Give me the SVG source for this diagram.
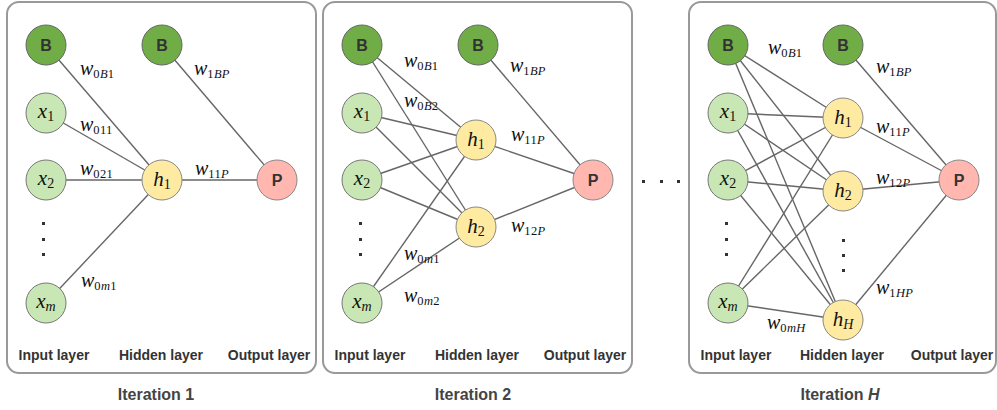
<svg xmlns="http://www.w3.org/2000/svg" width="997" height="410" viewBox="0 0 997 410">
<style>
.panel{fill:#fff;stroke:#999;stroke-width:2}
.e{stroke:#666;stroke-width:1.4;fill:none}
.nb{fill:#70ad47;stroke:#666;stroke-width:1}
.nx{fill:#c9e7b4;stroke:#777;stroke-width:1}
.nh{fill:#ffeaa2;stroke:#888;stroke-width:1}
.np{fill:#ffb7b0;stroke:#888;stroke-width:1}
.bl{font-family:"Liberation Sans",Arial,sans-serif;font-weight:bold;font-size:16px;fill:#333;text-anchor:middle}
.vl{font-family:"Liberation Serif","Times New Roman",serif;font-style:italic;font-size:21px;fill:#111;text-anchor:middle}
.vs{font-style:normal;font-size:14px}
.w{font-family:"Liberation Serif","Times New Roman",serif;font-style:italic;font-size:20px;fill:#111}
.ws{font-style:normal;font-size:12.5px;letter-spacing:0.3px}
.it{font-style:italic}
.lay{font-family:"Liberation Sans",Arial,sans-serif;font-weight:bold;font-size:14px;fill:#333;text-anchor:middle}
.ttl{font-family:"Liberation Sans",Arial,sans-serif;font-weight:bold;font-size:16px;fill:#444;text-anchor:middle}
.dot{fill:#333}
</style>

<g id="panels">
<rect class="panel" x="7" y="2" width="309" height="371" rx="12"/>
<rect class="panel" x="323" y="2" width="309" height="371" rx="12"/>
<rect class="panel" x="689" y="2" width="307" height="371" rx="12"/>
</g>

<g id="connectors">
<line class="e" x1="46" y1="45" x2="162" y2="180"/>
<line class="e" x1="46" y1="113" x2="162" y2="180"/>
<line class="e" x1="46" y1="180" x2="162" y2="180"/>
<line class="e" x1="46" y1="303" x2="162" y2="180"/>
<line class="e" x1="162" y1="45" x2="277" y2="180"/>
<line class="e" x1="162" y1="180" x2="277" y2="180"/>
<line class="e" x1="362" y1="45" x2="476" y2="140"/>
<line class="e" x1="362" y1="45" x2="476" y2="227"/>
<line class="e" x1="362" y1="113" x2="476" y2="140"/>
<line class="e" x1="362" y1="113" x2="476" y2="227"/>
<line class="e" x1="362" y1="180" x2="476" y2="140"/>
<line class="e" x1="362" y1="180" x2="476" y2="227"/>
<line class="e" x1="362" y1="303" x2="476" y2="140"/>
<line class="e" x1="362" y1="303" x2="476" y2="227"/>
<line class="e" x1="478" y1="45" x2="593" y2="180"/>
<line class="e" x1="476" y1="140" x2="593" y2="180"/>
<line class="e" x1="476" y1="227" x2="593" y2="180"/>
<line class="e" x1="728" y1="45" x2="843" y2="118"/>
<line class="e" x1="728" y1="45" x2="843" y2="191"/>
<line class="e" x1="728" y1="45" x2="843" y2="320"/>
<line class="e" x1="728" y1="113" x2="843" y2="118"/>
<line class="e" x1="728" y1="113" x2="843" y2="191"/>
<line class="e" x1="728" y1="113" x2="843" y2="320"/>
<line class="e" x1="728" y1="180" x2="843" y2="118"/>
<line class="e" x1="728" y1="180" x2="843" y2="191"/>
<line class="e" x1="728" y1="180" x2="843" y2="320"/>
<line class="e" x1="728" y1="303" x2="843" y2="118"/>
<line class="e" x1="728" y1="303" x2="843" y2="191"/>
<line class="e" x1="728" y1="303" x2="843" y2="320"/>
<line class="e" x1="843" y1="45" x2="959" y2="180"/>
<line class="e" x1="843" y1="118" x2="959" y2="180"/>
<line class="e" x1="843" y1="191" x2="959" y2="180"/>
<line class="e" x1="843" y1="320" x2="959" y2="180"/>
</g>

<g id="weights">
<text class="w" x="80" y="75">w<tspan class="ws" dy="3">0<tspan class="it">B</tspan>1</tspan></text>
<text class="w" x="194" y="75">w<tspan class="ws" dy="3">1<tspan class="it">BP</tspan></tspan></text>
<text class="w" x="80" y="131">w<tspan class="ws" dy="3">011</tspan></text>
<text class="w" x="80" y="175">w<tspan class="ws" dy="3">021</tspan></text>
<text class="w" x="195" y="175">w<tspan class="ws" dy="3">11<tspan class="it">P</tspan></tspan></text>
<text class="w" x="81" y="287">w<tspan class="ws" dy="3">0<tspan class="it">m</tspan>1</tspan></text>

<text class="w" x="404" y="67">w<tspan class="ws" dy="3">0<tspan class="it">B</tspan>1</tspan></text>
<text class="w" x="404" y="107">w<tspan class="ws" dy="3">0<tspan class="it">B</tspan>2</tspan></text>
<text class="w" x="510" y="72">w<tspan class="ws" dy="3">1<tspan class="it">BP</tspan></tspan></text>
<text class="w" x="511" y="141">w<tspan class="ws" dy="3">11<tspan class="it">P</tspan></tspan></text>
<text class="w" x="511" y="232">w<tspan class="ws" dy="3">12<tspan class="it">P</tspan></tspan></text>
<text class="w" x="404" y="260">w<tspan class="ws" dy="3">0<tspan class="it">m</tspan>1</tspan></text>
<text class="w" x="404" y="302">w<tspan class="ws" dy="3">0<tspan class="it">m</tspan>2</tspan></text>

<text class="w" x="768" y="54">w<tspan class="ws" dy="3">0<tspan class="it">B</tspan>1</tspan></text>
<text class="w" x="876" y="73">w<tspan class="ws" dy="3">1<tspan class="it">BP</tspan></tspan></text>
<text class="w" x="876" y="133">w<tspan class="ws" dy="3">11<tspan class="it">P</tspan></tspan></text>
<text class="w" x="876" y="184">w<tspan class="ws" dy="3">12<tspan class="it">P</tspan></tspan></text>
<text class="w" x="876" y="294">w<tspan class="ws" dy="3">1<tspan class="it">HP</tspan></tspan></text>
<text class="w" x="767" y="329">w<tspan class="ws" dy="3">0<tspan class="it">mH</tspan></tspan></text>
</g>

<g id="p1-B0"><circle class="nb" cx="46" cy="45" r="20"/><text class="bl" x="46" y="51">B</text></g>
<g id="p1-B1"><circle class="nb" cx="162" cy="45" r="20"/><text class="bl" x="162" y="51">B</text></g>
<g id="p1-x1"><circle class="nx" cx="46" cy="113" r="20"/><text class="vl" x="46" y="118">x<tspan class="vs" dy="3">1</tspan></text></g>
<g id="p1-x2"><circle class="nx" cx="46" cy="180" r="20"/><text class="vl" x="46" y="185">x<tspan class="vs" dy="3">2</tspan></text></g>
<g id="p1-xm"><circle class="nx" cx="46" cy="303" r="20"/><text class="vl" x="46" y="308">x<tspan class="vs it" dy="3">m</tspan></text></g>
<g id="p1-h1"><circle class="nh" cx="162" cy="180" r="20"/><text class="vl" x="162" y="186">h<tspan class="vs" dy="3">1</tspan></text></g>
<g id="p1-P"><circle class="np" cx="277" cy="180" r="20"/><text class="bl" x="277" y="186">P</text></g>
<g id="p1-dots"><rect class="dot" x="42" y="222" width="3" height="3"/><rect class="dot" x="42" y="238" width="3" height="3"/><rect class="dot" x="42" y="253" width="3" height="3"/></g>

<g id="p2-B0"><circle class="nb" cx="362" cy="45" r="20"/><text class="bl" x="362" y="51">B</text></g>
<g id="p2-B1"><circle class="nb" cx="478" cy="45" r="20"/><text class="bl" x="478" y="51">B</text></g>
<g id="p2-x1"><circle class="nx" cx="362" cy="113" r="20"/><text class="vl" x="362" y="118">x<tspan class="vs" dy="3">1</tspan></text></g>
<g id="p2-x2"><circle class="nx" cx="362" cy="180" r="20"/><text class="vl" x="362" y="185">x<tspan class="vs" dy="3">2</tspan></text></g>
<g id="p2-xm"><circle class="nx" cx="362" cy="303" r="20"/><text class="vl" x="362" y="308">x<tspan class="vs it" dy="3">m</tspan></text></g>
<g id="p2-h1"><circle class="nh" cx="476" cy="140" r="20"/><text class="vl" x="476" y="146">h<tspan class="vs" dy="3">1</tspan></text></g>
<g id="p2-h2"><circle class="nh" cx="476" cy="227" r="20"/><text class="vl" x="476" y="233">h<tspan class="vs" dy="3">2</tspan></text></g>
<g id="p2-P"><circle class="np" cx="593" cy="180" r="20"/><text class="bl" x="593" y="186">P</text></g>
<g id="p2-dots"><rect class="dot" x="359" y="222" width="3" height="3"/><rect class="dot" x="359" y="238" width="3" height="3"/><rect class="dot" x="359" y="253" width="3" height="3"/></g>

<g id="ellipsis"><rect class="dot" x="642" y="180" width="3" height="3"/><rect class="dot" x="660" y="180" width="3" height="3"/><rect class="dot" x="677" y="180" width="3" height="3"/></g>

<g id="p3-B0"><circle class="nb" cx="728" cy="45" r="20"/><text class="bl" x="728" y="51">B</text></g>
<g id="p3-B1"><circle class="nb" cx="843" cy="45" r="20"/><text class="bl" x="843" y="51">B</text></g>
<g id="p3-x1"><circle class="nx" cx="728" cy="113" r="20"/><text class="vl" x="728" y="118">x<tspan class="vs" dy="3">1</tspan></text></g>
<g id="p3-x2"><circle class="nx" cx="728" cy="180" r="20"/><text class="vl" x="728" y="185">x<tspan class="vs" dy="3">2</tspan></text></g>
<g id="p3-xm"><circle class="nx" cx="728" cy="303" r="20"/><text class="vl" x="728" y="308">x<tspan class="vs it" dy="3">m</tspan></text></g>
<g id="p3-h1"><circle class="nh" cx="843" cy="118" r="20"/><text class="vl" x="843" y="124">h<tspan class="vs" dy="3">1</tspan></text></g>
<g id="p3-h2"><circle class="nh" cx="843" cy="191" r="20"/><text class="vl" x="843" y="197">h<tspan class="vs" dy="3">2</tspan></text></g>
<g id="p3-hH"><circle class="nh" cx="843" cy="320" r="20"/><text class="vl" x="843" y="326">h<tspan class="vs it" dy="3">H</tspan></text></g>
<g id="p3-P"><circle class="np" cx="959" cy="180" r="20"/><text class="bl" x="959" y="186">P</text></g>
<g id="p3-dots"><rect class="dot" x="725" y="222" width="3" height="3"/><rect class="dot" x="725" y="238" width="3" height="3"/><rect class="dot" x="725" y="253" width="3" height="3"/>
<rect class="dot" x="842" y="239" width="3" height="3"/><rect class="dot" x="842" y="254" width="3" height="3"/><rect class="dot" x="842" y="269" width="3" height="3"/></g>

<g id="labels">
<text class="lay" x="54" y="360">Input layer</text>
<text class="lay" x="161" y="360">Hidden layer</text>
<text class="lay" x="269" y="360">Output layer</text>
<text class="lay" x="370" y="360">Input layer</text>
<text class="lay" x="477" y="360">Hidden layer</text>
<text class="lay" x="585" y="360">Output layer</text>
<text class="lay" x="736" y="360">Input layer</text>
<text class="lay" x="842" y="360">Hidden layer</text>
<text class="lay" x="952" y="360">Output layer</text>
<text class="ttl" x="156" y="400">Iteration 1</text>
<text class="ttl" x="473" y="400">Iteration 2</text>
<text class="ttl" x="840" y="400">Iteration <tspan class="it">H</tspan></text>
</g>
</svg>
